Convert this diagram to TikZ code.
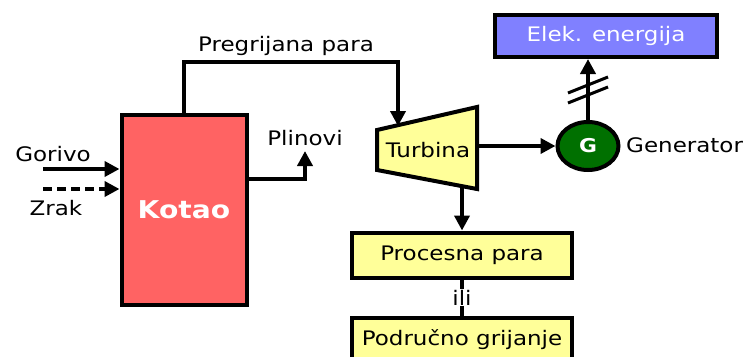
\documentclass[tikz,border=0pt]{standalone}
\usepackage{fontspec}
\setmainfont[FakeStretch=1.15]{DejaVu Sans}
\usetikzlibrary{arrows.meta}
\usetikzlibrary{shapes.geometric}
\usetikzlibrary{positioning}

\definecolor{kotaored}{RGB}{255,99,99}
\definecolor{elekblue}{RGB}{128,128,255}
\definecolor{turbyellow}{RGB}{255,255,153}
\definecolor{gengreen}{RGB}{0,112,0}

\begin{document}
\begin{tikzpicture}[x=1pt,y=-1pt]
    \tikzset{
      >={Triangle[length=15pt,width=15pt]},
      every node/.style={font=\fontsize{20}{23}\selectfont},
      flow/.style={line width=4pt},
      box/.style={draw, line width=4pt, inner sep=0pt},
    }
    \useasboundingbox (0,0) rectangle (746,356);

    \node[box, fill=kotaored, minimum width=125pt, minimum height=190pt,
      text=white, font=\fontsize{24.5}{27}\selectfont\bfseries] (kotao) at (184,210) {Kotao};
    \node[box, fill=elekblue, minimum width=222pt, minimum height=42pt,
      text=white] (elek) at (606,36) {Elek. energija};
    \node[box, fill=turbyellow, minimum width=220pt, minimum height=45pt] (proc) at (462,255) {Procesna para};
    \node[box, fill=turbyellow, minimum width=220pt, minimum height=44pt] (podr) at (462,340) {Područno grijanje};
    \node[ellipse, draw, line width=4pt, fill=gengreen, minimum width=61pt, minimum height=48pt,
      text=white, font=\fontsize{19}{22}\selectfont\bfseries] (gen) at (588,146) {G};

    % turbina
    \coordinate (t1) at (377,130);
    \coordinate (t2) at (477,107);
    \coordinate (t3) at (477,189);
    \coordinate (t4) at (377,170);
    \draw[flow, fill=turbyellow, line join=miter] (t1) -- (t2) -- (t3) -- (t4) -- cycle;
    \node (turb) at (428,150) {Turbina};
    \coordinate (tin) at (398,126);
    \coordinate (tout) at (477,146);
    \coordinate (tdown) at (462,186);

    % labels
    \node (preg) at (286,46) {Pregrijana para};
    \node (plin) at (305,138) {Plinovi};
    \node (gorivo) at (53,154) {Gorivo};
    \node (zrak) at (56,208) {Zrak};
    \node[anchor=west, inner sep=0pt] (gentxt) at (626,145) {Generator};

    \coordinate (gor) at (43,169);
    \coordinate (zr) at (43,189);
    \coordinate (plout) at (305,151);

    \draw[flow, ->] (kotao.north) -- ++(0,-51) -| (tin);
    \draw[flow, ->] ([yshift=31pt]kotao.east) -| (plout);
    \draw[flow, ->] (gor) -- (gor -| kotao.west);
    \draw[flow, ->, dash pattern=on 9pt off 5pt] (zr) -- (zr -| kotao.west);
    \draw[flow, ->] (tout) -- (tout -| gen.west);
    \draw[flow, ->] (tdown) -- (proc.north);
    \draw[flow, ->] (gen.north) -- (gen.north |- elek.south);
    \draw[flow] (proc.south) -- node[fill=white, inner sep=1pt] (ili) {ili} (podr.north);

    % oznaka prijenosa
    \coordinate (s1) at (588,85);
    \coordinate (s2) at (588,95);
    \draw[line width=3pt] ([shift={(-20,8)}]s1) -- ([shift={(20,-8)}]s1);
    \draw[line width=3pt] ([shift={(-20,8)}]s2) -- ([shift={(20,-8)}]s2);
\end{tikzpicture}
\end{document}
